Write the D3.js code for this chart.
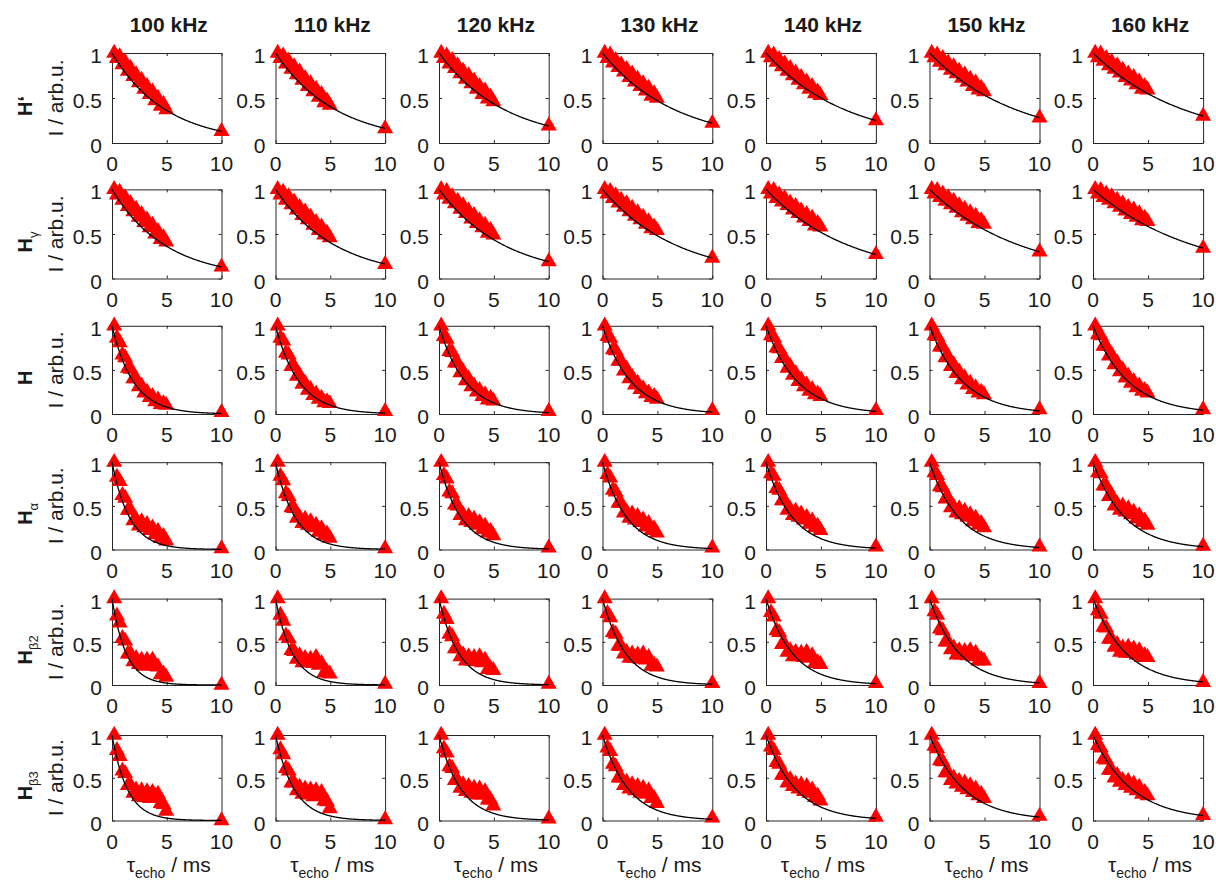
<!DOCTYPE html>
<html>
<head>
<meta charset="utf-8">
<script src="https://cdn.jsdelivr.net/npm/d3@7"></script>
<style>
  html, body { margin: 0; padding: 0; background: #fff; }
  svg { display: block; font-family: "Liberation Sans", Arial, Helvetica, sans-serif; }
</style>
</head>
<body>
<svg id="chart" width="1216" height="881"></svg>
<script>
// ---------------- DATA ----------------
const frequencies = ["100 kHz", "110 kHz", "120 kHz", "130 kHz", "140 kHz", "150 kHz", "160 kHz"];
const rowNames = [
  { base: "H", sub: "", suffix: "\u2018" },
  { base: "H", sub: "\u03b3", suffix: "" },
  { base: "H", sub: "", suffix: "" },
  { base: "H", sub: "\u03b1", suffix: "" },
  { base: "H", sub: "\u03b22", suffix: "" },
  { base: "H", sub: "\u03b23", suffix: "" }
];
const xTicks = [0, 5, 10];
const xTickLabels = ["0", "5", "10"];
const yTicks = [0, 0.5, 1];
const yTickLabels = ["0", "0.5", "1"];
const yLabel = "I / arb.u.";

// echo delays (ms)
const tauEcho = [0.2, 0.45, 0.7, 0.95, 1.2, 1.45, 1.7, 1.95, 2.2, 2.45, 2.7, 2.95, 3.2, 3.45, 3.7, 3.95, 4.2, 4.45, 4.7, 4.95, 10];

// normalized intensities (percent), one list per MAS frequency
const intHPrime = [
  [100,94,96,87,90,80,83,74,76,67,70,60,63,54,57,47,50,41,43,37,13],
  [100,94,97,88,91,82,85,76,79,70,72,63,66,57,60,51,54,45,47,42,16],
  [100,94,97,88,92,83,86,77,80,71,75,66,69,60,63,54,58,49,51,46,19],
  [100,94,98,89,92,84,87,79,82,73,77,68,71,63,66,58,61,52,55,50,22],
  [100,95,98,90,93,85,88,80,83,75,78,70,73,65,68,60,63,55,57,53,25],
  [100,95,98,90,94,86,89,81,85,77,80,72,76,68,71,63,67,59,61,57,28],
  [100,95,99,91,94,86,90,82,86,78,81,73,77,69,73,65,68,60,63,59,30]
];
const intHGamma = [
  [100,94,97,88,91,81,84,75,78,69,72,63,66,57,60,50,53,44,46,41,13],
  [100,94,97,88,92,83,86,77,80,71,75,66,69,60,63,54,58,49,51,46,16],
  [100,94,98,89,92,84,87,78,82,73,76,67,71,62,65,57,60,51,54,49,19],
  [100,95,98,90,93,85,88,80,84,75,79,70,74,66,69,61,64,56,58,54,23],
  [100,95,99,90,94,86,90,82,85,77,81,73,76,68,72,64,68,59,62,58,27],
  [100,95,99,91,95,87,91,83,87,79,82,74,78,70,74,66,70,62,65,61,30],
  [100,95,99,91,95,88,92,84,88,80,84,76,80,72,77,69,73,65,68,64,34]
];
const intH = [
  [100,86,81,67,64,52,51,40,40,31,32,24,25,19,20,14,16,11,12,10,2],
  [100,86,83,69,67,54,54,43,44,34,35,27,28,21,23,17,18,13,14,12,3],
  [100,88,85,71,70,58,58,47,48,38,40,31,32,25,27,20,22,16,18,15,3],
  [100,88,86,73,72,60,60,49,51,40,42,33,35,28,29,23,24,19,20,17,4],
  [100,89,87,75,74,63,63,52,54,44,46,37,39,31,33,26,28,22,23,20,4],
  [100,89,88,76,76,64,65,54,56,46,48,39,41,33,35,28,30,24,25,22,5],
  [100,90,89,77,77,66,67,56,58,48,50,41,43,35,37,30,32,26,27,24,5]
];
const intHAlpha = [
  [100,83,78,62,59,45,45,33,34,27,32,25,29,22,25,17,21,13,15,10,1],
  [100,84,79,64,61,48,47,36,37,30,35,28,32,25,28,20,24,16,18,13,1],
  [100,85,81,66,64,51,50,39,40,33,38,31,35,28,31,23,27,19,21,16,2],
  [100,86,82,68,66,53,53,42,43,36,41,34,38,31,34,26,30,22,24,19,2],
  [100,87,84,70,68,56,56,45,46,39,44,37,41,34,37,29,33,25,27,22,3],
  [100,88,85,72,71,58,59,48,49,42,47,40,44,37,40,32,36,28,30,25,3],
  [100,88,87,73,73,61,62,50,52,45,50,43,47,40,43,35,39,31,33,28,4]
];
const intHBeta2 = [
  [100,80,72,54,51,36,36,27,31,24,29,22,29,24,29,22,21,12,13,9,0],
  [100,81,74,57,54,40,39,30,34,26,31,26,30,25,32,23,25,14,15,13,1],
  [100,82,76,59,56,42,42,33,35,28,33,28,32,27,33,26,29,18,19,17,1],
  [100,83,78,61,59,45,45,36,38,31,36,31,35,30,36,29,32,22,23,21,2],
  [100,84,79,63,61,47,47,38,40,33,38,33,37,32,38,31,34,25,26,24,2],
  [100,85,81,65,63,50,50,41,43,35,40,35,39,34,40,33,37,28,30,28,2],
  [100,86,82,67,66,53,53,44,47,38,43,37,44,37,42,35,40,32,34,32,3]
];
const intHBeta3 = [
  [100,82,75,58,55,41,41,32,36,28,35,27,34,26,33,28,31,20,19,11,0],
  [100,83,77,61,58,44,44,35,39,31,37,30,36,28,35,29,33,23,22,14,1],
  [100,84,79,63,61,47,47,38,42,34,40,32,38,30,37,30,34,24,24,17,2],
  [100,85,81,66,63,50,50,41,45,37,42,35,40,32,38,31,35,26,26,20,3],
  [100,86,82,68,66,53,53,44,48,40,43,37,42,34,40,32,36,27,29,23,4],
  [100,87,84,70,69,56,56,47,50,43,46,39,44,36,41,33,37,29,31,26,5],
  [100,88,85,72,71,59,59,50,53,45,47,41,46,38,43,35,39,31,33,29,6]
];

// fitted T2 (ms) of the mono-exponential fit I = exp(-t/T2)
const t2HPrime = [4.9, 5.5, 6.0, 6.6, 7.2, 7.9, 8.3];
const t2HGamma = [4.9, 5.5, 6.0, 6.8, 7.6, 8.3, 9.3];
const t2H      = [1.95, 2.15, 2.4, 2.6, 2.85, 3.0, 3.2];
const t2HAlpha = [1.6, 1.8, 2.0, 2.2, 2.4, 2.65, 2.9];
const t2HBeta2 = [1.3, 1.55, 1.8, 2.1, 2.4, 2.7, 3.0];
const t2HBeta3 = [1.4, 1.7, 2.0, 2.35, 2.7, 3.1, 3.5];

const rowData = [intHPrime, intHGamma, intH, intHAlpha, intHBeta2, intHBeta3];
const rowT2 = [t2HPrime, t2HGamma, t2H, t2HAlpha, t2HBeta2, t2HBeta3];

// ---------------- LAYOUT ----------------
const svg = d3.select("#chart");
const axisColor = "#262626";
const textColor = "#1a1a1a";
const tickFont = 21;
const colLeft = c => 112 + c * 163.5;
const colRight = c => 221.5 + c * 163.6;
const rowTop = r => 53 + r * 136.4;
const rowBottom = r => 143 + r * 135.5;

const fitGrid = d3.range(0, 10.0001, 0.05);
const tri = d3.symbol().type(d3.symbolTriangle).size(112);

rowData.forEach((rowSets, r) => {
  rowSets.forEach((vals, c) => {
    const L = colLeft(c), R = colRight(c), T = rowTop(r), B = rowBottom(r);
    const x = d3.scaleLinear().domain([0, 10]).range([L, R]);
    const y = d3.scaleLinear().domain([0, 1]).range([B, T]);
    const g = svg.append("g");

    // axes (box with inward ticks, labels drawn separately)
    const ax = [
      { a: d3.axisBottom(x), tr: `translate(0,${B})` },
      { a: d3.axisTop(x), tr: `translate(0,${T})` },
      { a: d3.axisLeft(y), tr: `translate(${L},0)` },
      { a: d3.axisRight(y), tr: `translate(${R},0)` }
    ];
    ax.forEach((o, i) => {
      o.a.tickValues(i < 2 ? xTicks : yTicks).tickSize(-3).tickSizeOuter(0).tickFormat("");
      const ag = g.append("g").attr("transform", o.tr).call(o.a);
      ag.select(".domain").attr("stroke", axisColor).attr("stroke-width", 1);
      ag.selectAll(".tick line").attr("stroke", axisColor).attr("stroke-width", 1);
      ag.selectAll("text").remove();
    });

    // tick labels
    g.append("g").selectAll("text").data(xTicks).join("text")
      .attr("x", d => x(d)).attr("y", B + 28)
      .attr("text-anchor", "middle").attr("font-size", tickFont).attr("fill", textColor)
      .text((d, i) => xTickLabels[i]);
    g.append("g").selectAll("text").data(yTicks).join("text")
      .attr("x", L - 10).attr("y", d => y(d) + 10)
      .attr("text-anchor", "end").attr("font-size", tickFont).attr("fill", textColor)
      .text((d, i) => yTickLabels[i]);

    // data markers
    g.append("g").selectAll("path")
      .data(tauEcho.map((t, i) => [t, vals[i] / 100]))
      .join("path")
      .attr("d", tri)
      .attr("transform", d => `translate(${x(d[0])},${y(d[1])})`)
      .attr("fill", "#ff0000");

    // fit curve
    const t2 = rowT2[r][c];
    g.append("path")
      .datum(fitGrid.map(t => [t, Math.exp(-t / t2)]))
      .attr("d", d3.line().x(d => x(d[0])).y(d => y(d[1])))
      .attr("fill", "none")
      .attr("stroke", "#000")
      .attr("stroke-width", 1.3);

    // column titles
    if (r === 0) {
      svg.append("text")
        .attr("x", (L + R) / 2 + 2).attr("y", 32)
        .attr("text-anchor", "middle")
        .attr("font-weight", "bold").attr("font-size", 21)
        .attr("fill", textColor)
        .text(frequencies[c]);
    }
    // x labels on bottom row
    if (r === rowData.length - 1) {
      const t = svg.append("text")
        .attr("x", (L + R) / 2 + 2).attr("y", 872)
        .attr("text-anchor", "middle")
        .attr("font-size", 21).attr("fill", textColor);
      t.append("tspan").text("\u03c4");
      t.append("tspan").attr("font-size", 14).attr("dy", 6).text("echo");
      t.append("tspan").attr("dy", -6).text(" / ms");
    }
    // y labels on first column
    if (c === 0) {
      const cy = (T + B) / 2;
      const rl = svg.append("text")
        .attr("transform", `translate(32,${cy + 8}) rotate(-90)`)
        .attr("text-anchor", "middle")
        .attr("font-weight", "bold").attr("font-size", 20)
        .attr("fill", textColor);
      const nm = rowNames[r];
      rl.append("tspan").text(nm.base);
      if (nm.sub) rl.append("tspan").attr("font-size", 13).attr("font-weight", "normal").attr("dy", 6).text(nm.sub);
      if (nm.suffix) rl.append("tspan").text(nm.suffix);

      svg.append("text")
        .attr("transform", `translate(63,${cy}) rotate(-90)`)
        .attr("text-anchor", "middle")
        .attr("font-size", 21).attr("fill", textColor)
        .text(yLabel);
    }
  });
});
</script>
</body>
</html>
